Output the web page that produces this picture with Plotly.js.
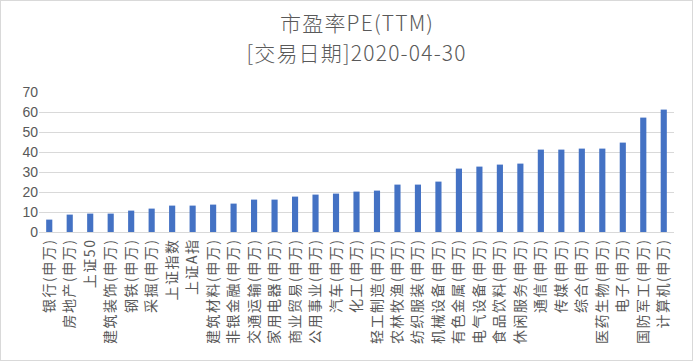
<!DOCTYPE html>
<html><head><meta charset="utf-8">
<script src="https://cdn.plot.ly/plotly-3.0.1.min.js"></script>
<style>html,body{margin:0;padding:0;background:#fff;}#c{width:693px;height:361px;box-sizing:border-box;border:1px solid #d9d9d9;}
#c .xtick text{letter-spacing:1.5px;}
#c .annotation-text{letter-spacing:1.2px;}
</style>
</head><body><div id="c"></div>
<script>
const categories = ["银行(申万)","房地产(申万)","上证50","建筑装饰(申万)","钢铁(申万)","采掘(申万)","上证指数","上证A指","建筑材料(申万)","非银金融(申万)","交通运输(申万)","家用电器(申万)","商业贸易(申万)","公用事业(申万)","汽车(申万)","化工(申万)","轻工制造(申万)","农林牧渔(申万)","纺织服装(申万)","机械设备(申万)","有色金属(申万)","电气设备(申万)","食品饮料(申万)","休闲服务(申万)","通信(申万)","传媒(申万)","综合(申万)","医药生物(申万)","电子(申万)","国防军工(申万)","计算机(申万)"];
const peValues = [6.2,8.7,9.2,9.2,10.7,11.7,13.2,13.2,13.7,14.2,16.2,16.2,17.7,18.7,19.2,20.2,20.7,23.7,23.7,25.2,31.7,32.7,33.7,34.2,41.2,41.2,41.7,41.7,44.7,57.2,61.2];
const yTicks = [0,10,20,30,40,50,60,70];
const titleLines = ["市盈率PE(TTM)","[交易日期]2020-04-30"];

const fontFam = '"Noto Sans CJK SC", "Microsoft YaHei", sans-serif';
const titleFont = {family: fontFam, size: 21, color: '#595959', weight: 300};
Plotly.newPlot('c', [{
  type: 'bar', x: categories, y: peValues,
  marker: {color: '#4472c4'}, hoverinfo: 'x+y'
}], {
  width: 691, height: 359,
  margin: {l: 38, r: 18, t: 91, b: 128},
  paper_bgcolor: '#fff', plot_bgcolor: '#fff',
  bargap: 0.7,
  annotations: [
    {text: titleLines[0], xref: 'paper', yref: 'paper', x: 0.5, y: 1.5, xanchor: 'center', yanchor: 'middle', showarrow: false, font: titleFont},
    {text: titleLines[1], xref: 'paper', yref: 'paper', x: 0.5, y: 1.2857, xanchor: 'center', yanchor: 'middle', showarrow: false, font: titleFont}
  ],
  xaxis: {type: 'category', tickangle: -90, tickfont: {family: fontFam, size: 14, color: '#595959'},
    showgrid: false, showline: true, linecolor: '#d9d9d9', linewidth: 1, ticks: '', automargin: false},
  yaxis: {range: [0, 70], tickvals: yTicks, ticktext: yTicks.map(String), showgrid: true, gridcolor: '#d9d9d9', gridwidth: 1,
    zeroline: false, showline: false, ticks: '', tickfont: {family: '"Liberation Sans", Arial, sans-serif', size: 14, color: '#595959'},
    ticklen: 0, automargin: false},
  showlegend: false
}, {displayModeBar: false, staticPlot: true});
</script></body></html>
